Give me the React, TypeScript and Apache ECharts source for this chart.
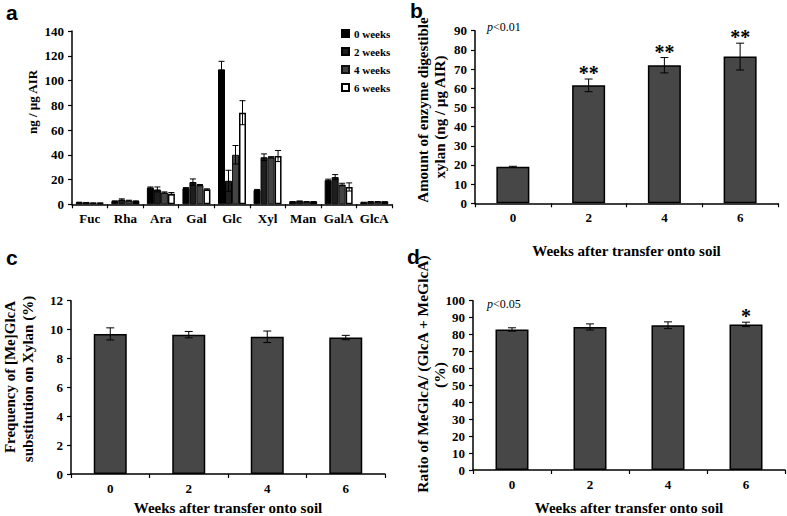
import React, { useEffect, useRef } from "react";
import * as echarts from "echarts";

// ---------- data ----------
const sugars = ["Fuc", "Rha", "Ara", "Gal", "Glc", "Xyl", "Man", "GalA", "GlcA"];
const weekNames = ["0 weeks", "2 weeks", "4 weeks", "6 weeks"];
const sugarW0 = [1.5, 2.5, 13.5, 13, 109, 11.5, 2, 19.5, 1.5];
const sugarW2 = [1.3, 3.8, 12, 18, 19, 38, 2.5, 22, 2];
const sugarW4 = [1.0, 3.0, 9.5, 15.5, 40, 38, 2, 16, 2];
const sugarW6 = [1.0, 2.5, 8.5, 12, 74, 39, 2, 14, 2];
const sugarErrW0 = [0.2, 0.3, 0.5, 0.5, 6.5, 0.5, 0.2, 0.8, 0.2];
const sugarErrW2 = [0.2, 0.6, 2, 2.5, 8.5, 2.7, 0.2, 2, 0.2];
const sugarErrW4 = [0.1, 0.3, 0.5, 0.5, 7.5, 0.5, 0.2, 1, 0.2];
const sugarErrW6 = [0.1, 0.3, 1, 0.5, 9.7, 4.5, 0.2, 3.3, 0.1];

const weeks = ["0", "2", "4", "6"];
const xylanAmount = [19, 61.5, 72, 76.5];
const xylanAmountErr = [0.3, 3.3, 4, 7];
const xylanStars = ["", "**", "**", "**"];
const glcaFreq = [9.7, 9.65, 9.5, 9.45];
const glcaFreqErr = [0.42, 0.22, 0.4, 0.15];
const meRatio = [83, 84.5, 85.5, 86];
const meRatioErr = [1, 1.8, 2, 1.3];
const meRatioStars = ["", "", "", "*"];

// ---------- style ----------
const SERIF = "'Liberation Serif', 'Times New Roman', serif";
const SANS = "'Liberation Sans', Arial, sans-serif";
const BAR_GRAY = "#474747";

function errorBars(xi: number, yi: number, values: number[], errs: number[], offset: number, cap: number) {
  return {
    type: "custom",
    xAxisIndex: xi,
    yAxisIndex: yi,
    z: 10,
    silent: true,
    data: values.map((v, i) => [i, v, errs[i]]),
    renderItem: (params: any, api: any) => {
      const i = api.value(0);
      const v = api.value(1);
      const e = api.value(2);
      const hi = api.coord([i, v + e]);
      const lo = api.coord([i, v - e]);
      const x = hi[0] + offset;
      const st = { stroke: "#000", lineWidth: 1 };
      return {
        type: "group",
        children: [
          { type: "line", shape: { x1: x, y1: hi[1], x2: x, y2: lo[1] }, style: st },
          { type: "line", shape: { x1: x - cap, y1: hi[1], x2: x + cap, y2: hi[1] }, style: st },
          { type: "line", shape: { x1: x - cap, y1: lo[1], x2: x + cap, y2: lo[1] }, style: st },
        ],
      };
    },
  };
}

function stars(xi: number, yi: number, values: number[], errs: number[], marks: string[]) {
  return {
    type: "custom",
    xAxisIndex: xi,
    yAxisIndex: yi,
    z: 11,
    silent: true,
    data: values.map((v, i) => [i, v + errs[i]]),
    renderItem: (params: any, api: any) => {
      const txt = marks[params.dataIndex];
      if (!txt) return null;
      const p = api.coord([api.value(0), api.value(1)]);
      return {
        type: "text",
        x: p[0],
        y: p[1] + 4,
        style: {
          text: txt,
          fontFamily: SERIF,
          fontWeight: "bold",
          fontSize: 20,
          fill: "#000",
          align: "center",
          verticalAlign: "bottom",
          textAlign: "center",
          textVerticalAlign: "bottom",
        },
      };
    },
  };
}

function yAxisCfg(grid: number, max: number, interval: number) {
  return {
    type: "value",
    gridIndex: grid,
    min: 0,
    max,
    interval,
    axisLine: { show: true, lineStyle: { color: "#000", width: 1.5 } },
    axisTick: { show: true, length: 4, lineStyle: { color: "#000", width: 1.2 } },
    axisLabel: { color: "#000", fontFamily: SERIF, fontWeight: "bold", fontSize: 13, margin: 8 },
    splitLine: { show: false },
  };
}

function xAxisCfg(grid: number, data: string[], name: string, nameGap: number) {
  return {
    type: "category",
    gridIndex: grid,
    data,
    boundaryGap: true,
    name,
    nameLocation: "middle",
    nameGap,
    nameTextStyle: { color: "#000", fontFamily: SERIF, fontWeight: "bold", fontSize: 15 },
    axisLine: { show: true, lineStyle: { color: "#000", width: 1.5 } },
    axisTick: { show: true, length: 4, interval: 0, alignWithLabel: false, lineStyle: { color: "#000", width: 1.2 } },
    axisLabel: {
      color: "#000",
      fontFamily: SERIF,
      fontWeight: "bold",
      fontSize: 13,
      margin: 8,
      interval: 0,
      hideOverlap: false,
    },
    splitLine: { show: false },
  };
}

function vText(x: number, y: number, text: string, size = 15) {
  return {
    type: "text",
    x,
    y,
    rotation: Math.PI / 2,
    style: {
      text,
      fontFamily: SERIF,
      fontWeight: "bold",
      fontSize: size,
      fill: "#000",
      align: "center",
      verticalAlign: "middle",
      textAlign: "center",
      textVerticalAlign: "middle",
    },
  };
}

function letter(x: number, y: number, text: string) {
  return {
    type: "text",
    x,
    y,
    style: {
      text,
      fontFamily: SANS,
      fontWeight: "bold",
      fontSize: 21,
      fill: "#000",
      align: "left",
      verticalAlign: "top",
      textAlign: "left",
      textVerticalAlign: "top",
    },
  };
}

function pText(x: number, y: number, rest: string) {
  return {
    type: "text",
    x,
    y,
    style: {
      text: "{i|p}{n|" + rest + "}",
      fontFamily: SERIF,
      fontSize: 12,
      fill: "#000",
      align: "left",
      verticalAlign: "middle",
      textAlign: "left",
      textVerticalAlign: "middle",
      rich: {
        i: { fontFamily: SERIF, fontSize: 12, fontStyle: "italic", fill: "#000" },
        n: { fontFamily: SERIF, fontSize: 12, fill: "#000" },
      },
    },
  };
}

export default function App() {
  const ref = useRef<HTMLDivElement>(null);
  useEffect(() => {
    if (!ref.current) return;
    const chart = echarts.init(ref.current, undefined, { renderer: "svg" });
    const weekSeries = [sugarW0, sugarW2, sugarW4, sugarW6];
    const weekErrs = [sugarErrW0, sugarErrW2, sugarErrW4, sugarErrW6];
    const weekStyles = [
      { color: "#000", borderColor: "#000", borderWidth: 1 },
      { color: "#1e1e1e", borderColor: "#000", borderWidth: 1 },
      { color: "#444", borderColor: "#111", borderWidth: 1 },
      { color: "#fff", borderColor: "#000", borderWidth: 1.5 },
    ];
    const bw = 7;
    const series: any[] = [];
    weekSeries.forEach((vals, k) => {
      series.push({
        type: "bar",
        name: weekNames[k],
        xAxisIndex: 0,
        yAxisIndex: 0,
        data: vals,
        barWidth: bw,
        barGap: "0%",
        itemStyle: weekStyles[k],
      });
    });
    weekSeries.forEach((vals, k) => {
      series.push(errorBars(0, 0, vals, weekErrs[k], (k - 1.5) * bw, 3));
    });
    const single = [
      { v: xylanAmount, e: xylanAmountErr },
      { v: glcaFreq, e: glcaFreqErr },
      { v: meRatio, e: meRatioErr },
    ];
    single.forEach((d, j) => {
      series.push({
        type: "bar",
        xAxisIndex: j + 1,
        yAxisIndex: j + 1,
        data: d.v,
        barWidth: 33,
        itemStyle: { color: BAR_GRAY, borderColor: "#000", borderWidth: 1.5 },
      });
      series.push(errorBars(j + 1, j + 1, d.v, d.e, 0, 4));
    });
    series.push(stars(1, 1, xylanAmount, xylanAmountErr, xylanStars));
    series.push(stars(3, 3, meRatio, meRatioErr, meRatioStars));

    chart.setOption({
      animation: false,
      textStyle: { fontFamily: SERIF },
      grid: [
        { left: 72, top: 31, width: 320, height: 173.3 },
        { left: 475, top: 30.7, width: 303, height: 172.6 },
        { left: 71, top: 300.7, width: 314, height: 173.6 },
        { left: 473, top: 300.7, width: 312, height: 174.3 },
      ],
      legend: {
        data: weekNames,
        orient: "vertical",
        left: 341,
        top: 28,
        padding: 0,
        itemWidth: 7,
        itemHeight: 7,
        itemGap: 7,
        icon: "rect",
        textStyle: { color: "#000", fontFamily: SERIF, fontWeight: "bold", fontSize: 11, lineHeight: 11 },
      },
      xAxis: [
        xAxisCfg(0, sugars, "", 0),
        xAxisCfg(1, weeks, "Weeks after transfer onto soil", 40),
        xAxisCfg(2, weeks, "Weeks after transfer onto soil", 26),
        xAxisCfg(3, weeks, "Weeks after transfer onto soil", 30),
      ],
      yAxis: [
        yAxisCfg(0, 140, 20),
        yAxisCfg(1, 90, 10),
        yAxisCfg(2, 12, 2),
        yAxisCfg(3, 100, 10),
      ],
      graphic: [
        letter(6, 2, "a"),
        letter(410, 0, "b"),
        letter(6, 247, "c"),
        letter(407, 246, "d"),
        vText(32, 102, "ng / µg AIR", 13),
        vText(423, 110, "Amount of enzyme digestible"),
        vText(440, 117, "xylan (ng / µg AIR)"),
        vText(10, 377, "Frequency of [Me]GlcA"),
        vText(28, 379, "substitution on Xylan (%)"),
        vText(422, 374, "Ratio of MeGlcA/ (GlcA + MeGlcA)", 15.5),
        vText(439, 375, "(%)", 15.5),
        pText(487, 27, "<0.01"),
        pText(487, 304, "<0.05"),
      ],
      series,
    });
    return () => chart.dispose();
  }, []);
  return (
    <div
      ref={ref}
      style={{ position: "absolute", left: 0, top: 0, width: 787, height: 516, background: "#fff" }}
    />
  );
}
